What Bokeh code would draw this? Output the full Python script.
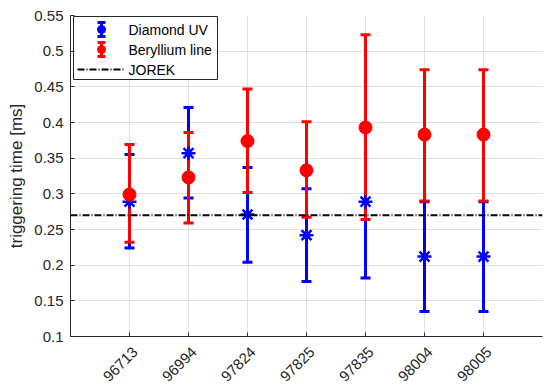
import math
from bokeh.plotting import figure
from bokeh.models import Range1d, FixedTicker, Span, ColumnDataSource
from bokeh.core.properties import value
from bokeh.embed import file_html
from bokeh.resources import INLINE

# ---------------- data ----------------
shots = ["96713", "96994", "97824", "97825", "97835", "98004", "98005"]
positions = [1, 2, 3, 4, 5, 6, 7]
diamond_mid = [0.289, 0.357, 0.271, 0.242, 0.289, 0.212, 0.212]
diamond_low = [0.224, 0.294, 0.204, 0.177, 0.182, 0.135, 0.135]
diamond_high = [0.355, 0.421, 0.337, 0.307, 0.396, 0.289, 0.289]
beryllium_mid = [0.299, 0.323, 0.374, 0.333, 0.393, 0.383, 0.383]
beryllium_low = [0.232, 0.259, 0.302, 0.267, 0.264, 0.290, 0.290]
beryllium_high = [0.369, 0.386, 0.447, 0.401, 0.523, 0.474, 0.474]
jorek_time = 0.27
y_ticks = [0.1, 0.15, 0.2, 0.25, 0.3, 0.35, 0.4, 0.45, 0.5, 0.55]
y_tick_labels = ["0.1", "0.15", "0.2", "0.25", "0.3", "0.35", "0.4", "0.45", "0.5", "0.55"]
legend_labels = ["Diamond UV", "Beryllium line", "JOREK"]

FONT = "Liberation Sans"
AX = "#262626"
BLUE = "#0000ff"
RED = "#ff0000"

FW, FH = 472, 321
X0, X1 = 0, 8
p = figure(frame_width=FW, frame_height=FH,
           min_border_left=70, min_border_right=8, min_border_top=15, min_border_bottom=56,
           x_range=Range1d(X0, X1), y_range=Range1d(0.1, 0.55),
           output_backend="svg", toolbar_location=None)
p.outline_line_color = None
p.background_fill_color = "white"
p.border_fill_color = "white"

# label range: shifted a few pixels so rotated labels sit like MATLAB's
shift = 5.7 * (X1 - X0) / FW
p.extra_x_ranges = {"lab": Range1d(X0 - shift, X1 - shift),
                    "lx": Range1d(0, FW)}
p.extra_y_ranges = {"ly": Range1d(0, FH)}

xa = p.xaxis[0]
xa.x_range_name = "lab"
xa.ticker = FixedTicker(ticks=positions)
xa.major_label_overrides = {pos: s for pos, s in zip(positions, shots)}
xa.major_label_orientation = math.pi / 4
xa.major_label_standoff = 13
xa.major_tick_in = 0
xa.major_tick_out = 0

p.yaxis.ticker = FixedTicker(ticks=y_ticks)
p.yaxis.major_label_overrides = {t: s for t, s in zip(y_ticks, y_tick_labels)}
p.yaxis.axis_label = "triggering time [ms]"
p.yaxis.major_tick_in = 4
p.yaxis.major_tick_out = 0
p.yaxis.major_label_standoff = 7
for ax in (p.xaxis, p.yaxis):
    ax.axis_line_color = AX
    ax.axis_line_width = 1
    ax.major_tick_line_color = AX
    ax.minor_tick_line_color = None
    ax.major_label_text_font = FONT
    ax.major_label_text_font_size = "15px"
    ax.major_label_text_color = AX
p.yaxis.axis_label_text_font = FONT
p.yaxis.axis_label_text_font_size = "17px"
p.yaxis.axis_label_text_font_style = "normal"
p.yaxis.axis_label_text_color = AX
p.yaxis.axis_label_standoff = 5

p.xgrid.ticker = FixedTicker(ticks=positions)
p.ygrid.ticker = FixedTicker(ticks=y_ticks)
for g in (p.xgrid, p.ygrid):
    g.grid_line_color = "#e0e0e0"
    g.grid_line_width = 1

src = ColumnDataSource(dict(x=positions,
                            dm=diamond_mid, dl=diamond_low, dh=diamond_high,
                            bm=beryllium_mid, bl=beryllium_low, bh=beryllium_high))

# inward x tick marks (MATLAB style)
p.segment(x0="x", y0=0, x1="x", y1=4, source=src, line_color=AX, line_width=1,
          y_range_name="ly")

# Diamond UV error bars
p.segment(x0="x", y0="dl", x1="x", y1="dh", source=src, line_color=BLUE, line_width=3)
p.scatter(x="x", y="dl", source=src, marker="dash", size=10, line_color=BLUE, line_width=3)
p.scatter(x="x", y="dh", source=src, marker="dash", size=10, line_color=BLUE, line_width=3)
# Beryllium line error bars
p.segment(x0="x", y0="bl", x1="x", y1="bh", source=src, line_color=RED, line_width=3)
p.scatter(x="x", y="bl", source=src, marker="dash", size=10, line_color=RED, line_width=3)
p.scatter(x="x", y="bh", source=src, marker="dash", size=10, line_color=RED, line_width=3)
# markers
p.scatter(x="x", y="dm", source=src, marker="asterisk", size=14, line_color=BLUE, line_width=2.5)
p.scatter(x="x", y="bm", source=src, marker="circle", size=13, fill_color=RED, line_color=RED)

# JOREK
p.add_layout(Span(location=jorek_time, dimension="width", line_color="black",
                  line_width=2, line_dash="7 2 1 2"))

# ---------------- legend (drawn in frame pixel coordinates) ----------------
lk = dict(x_range_name="lx", y_range_name="ly")
p.quad(left=[3], right=[147], top=[320], bottom=[257], fill_color="white",
       line_color=AX, line_width=1, **lk)
ey = [307, 287]
ecol = [BLUE, RED]
for yy, c in zip(ey, ecol):
    p.segment(x0=[31], y0=[yy - 7], x1=[31], y1=[yy + 7], line_color=c, line_width=3, **lk)
    p.scatter(x=[31, 31], y=[yy - 7, yy + 7], marker="dash", size=8, line_color=c, line_width=3, **lk)
    p.scatter(x=[31], y=[yy], marker="circle", size=8, fill_color=c, line_color=c, **lk)
p.segment(x0=[7], y0=[267], x1=[53], y1=[267], line_color="black", line_width=2,
          line_dash="7 2 1 2", **lk)
p.text(x=[58, 58, 58], y=[307, 287, 267], text=legend_labels, text_baseline="middle",
       text_align="left", text_font=value(FONT), text_font_size="14px",
       text_color="black", **lk)

open("out.html", "w").write(file_html(p, INLINE))
